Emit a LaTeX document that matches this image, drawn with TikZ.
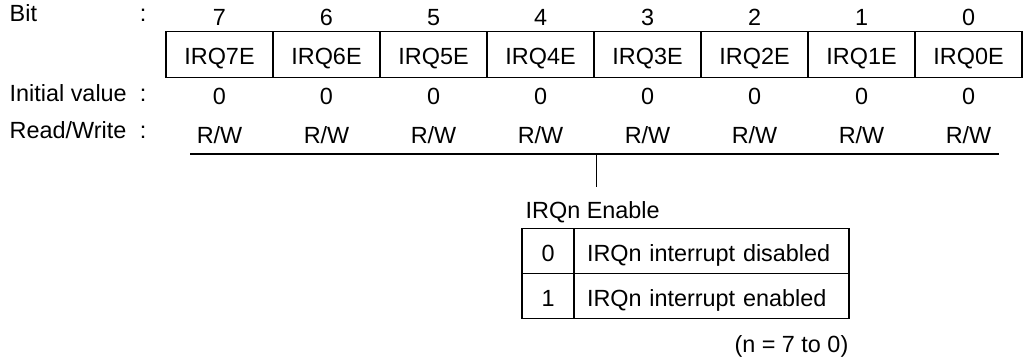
\documentclass[tikz,border=0pt]{standalone}
\usepackage{fontspec}
\setmainfont{Liberation Sans}
\usetikzlibrary{positioning}

\begin{document}
\begin{tikzpicture}[x=0.5pt,y=-0.5pt,line width=0.7pt,
  font=\fontsize{11.7}{14}\selectfont,
  every node/.style={inner sep=0pt},
  bitcell/.style={draw,outer sep=0pt,minimum width=53.5pt,minimum height=22.75pt,
    text height=10pt,text depth=0pt},
  valcell/.style={draw,outer sep=0pt,minimum width=26pt,minimum height=22.5pt,
    text height=10pt,text depth=0pt},
  desccell/.style={draw,outer sep=0pt,minimum height=22.5pt,inner xsep=6.5pt,
    text width=124.5pt,align=left,text height=10pt,text depth=0pt}]
\useasboundingbox (0,0) rectangle (1027,361);
% Zeilenbeschriftung
\node[anchor=base west] (bitlbl) at (9,21.7) {Bit};
\node[anchor=base west] (initlbl) at (9,101) {Initial value};
\node[anchor=base west] (rwlbl) at (9,138) {Read/Write};
\node[anchor=base] (bitcol) at (143,21.7) {:};
\node[anchor=base] (initcol) at (143,101) {:};
\node[anchor=base] (rwcol) at (143,138) {:};
% Register
\foreach \b [count=\i from 0] in {7,...,0} {
  \node[anchor=base] (bit\b) at ({219.5+107*\i},25) {\b};
  \node[bitcell] (reg\b) at ({219.5+107*\i},54.5) {IRQ\b E};
  \node[anchor=base] (init\b) at ({219.5+107*\i},104) {0};
  \node[anchor=base] (rw\b) at ({219.5+107*\i},143) {R/W};
}
\coordinate (rwL) at (190,154);
\coordinate (rwR) at (999,154);
\draw (rwL) -- (rwR);
\coordinate (tap) at (596.5,154);
\coordinate (tapend) at (596.5,187);
\draw (tap) -- (tapend);
% Tabelle
\node[anchor=base west] (enttl) at (525,218) {IRQn Enable};
\node[valcell] (val0) at (548,251) {0};
\node[desccell,right=0pt of val0] (desc0) {IRQn interrupt disabled};
\node[valcell,below=0pt of val0] (val1) {1};
\node[desccell,below=0pt of desc0] (desc1) {IRQn interrupt enabled};
\node[anchor=base east] (note) at (849,352) {(n = 7 to 0)};
\end{tikzpicture}
\end{document}
